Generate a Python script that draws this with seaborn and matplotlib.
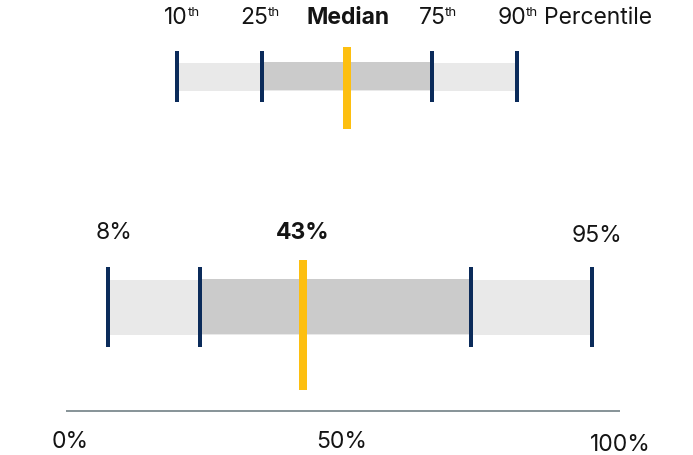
import matplotlib
matplotlib.use("Agg")
import matplotlib.pyplot as plt
import seaborn as sns

# Distribution summary (percent)
p_low = 8          # 10th percentile
p_q1 = 24.5        # 25th percentile
p_median = 43      # median
p_q3 = 73.3        # 75th percentile
p_high = 95        # 90th percentile

axis_ticks = [0, 50, 100]
axis_labels = ["0%", "50%", "100%"]

legend_numbers = ["10", "25", "Median", "75", "90"]

# Colours
LIGHT = "#e9e9e9"
DARK = "#cbcbcb"
NAVY = "#0b2b5a"
GOLD = "#fdbf10"
AXIS = "#66757a"
INK = "#141414"

sns.set_theme(style="white")
plt.rcParams["font.family"] = ["Inter", "DejaVu Sans"]

W, H = 693, 456
fig = plt.figure(figsize=(W / 100, H / 100), dpi=100)
ax = fig.add_axes([0, 0, 1, 1])

# x in percent, y in pixel rows from the top
X0, S = 63.2, 5.568
ax.set_xlim(-X0 / S, (W - X0) / S)
ax.set_ylim(H, 0)
ax.axis("off")

PT = 0.72  # points per pixel


def range_bar(lo, q1, med, q3, hi, yc, h, tick_half, med_top, med_bot):
    ax.barh(yc + 0.5, hi - lo, left=lo, height=h, color=LIGHT, lw=0, zorder=1)
    ax.barh(yc - 0.5, q3 - q1, left=q1, height=h, color=DARK, lw=0, zorder=2)
    ax.vlines([lo, q1, q3, hi], yc - tick_half, yc + tick_half,
              color=NAVY, lw=4 * PT, zorder=3)
    ax.vlines(med, med_top, med_bot, color=GOLD, lw=8 * PT, zorder=4)


# Key: evenly spaced schematic of the percentile bar
key_start, key_step = 20.5, 15.25
key_pos = [key_start + i * key_step for i in range(5)]
range_bar(key_pos[0], key_pos[1], key_pos[2], key_pos[3], key_pos[4],
          yc=77.3, h=28.3, tick_half=25.3, med_top=48, med_bot=130)

key_fs = 16.5
sup_fs = 9.5
# (position index, split offset in px)
for i, dx in [(0, 10.5), (1, 6.0), (3, 13.3), (4, 9.6)]:
    ax.annotate(legend_numbers[i], (key_pos[i], 24), xytext=(dx * PT, 0),
                textcoords="offset points", ha="right", va="baseline",
                fontsize=key_fs, color=INK)
    ax.annotate("th", (key_pos[i], 15.8), xytext=((dx - 0.5) * PT, 0),
                textcoords="offset points", ha="left", va="baseline",
                fontsize=sup_fs, color=INK)
ax.annotate(legend_numbers[2], (key_pos[2], 24), xytext=(1 * PT, 0),
            textcoords="offset points", ha="center", va="baseline",
            fontsize=key_fs, fontweight="bold", color=INK)
ax.annotate("Percentile", (key_pos[4], 24), xytext=(27.5 * PT, 0),
            textcoords="offset points", ha="left", va="baseline",
            fontsize=key_fs, color=INK)

# Main bar
range_bar(p_low, p_q1, p_median, p_q3, p_high,
          yc=307.8, h=55.2, tick_half=40.3, med_top=261, med_bot=391)

val_fs = 16.5
ax.annotate(f"{p_low}%", (p_low, 239), xytext=(6 * PT, 0),
            textcoords="offset points", ha="center", va="baseline",
            fontsize=val_fs, color=INK)
ax.annotate(f"{p_median}%", (p_median, 239), xytext=(0, 0),
            textcoords="offset points", ha="center", va="baseline",
            fontsize=val_fs, fontweight="bold", color=INK)
ax.annotate(f"{p_high}%", (p_high, 242), xytext=(5 * PT, 0),
            textcoords="offset points", ha="center", va="baseline",
            fontsize=val_fs, color=INK)

# Percent axis
ax.hlines(412, 0.5, 100, color=AXIS, lw=1.1, zorder=1)
for t, lab, dx, yb in zip(axis_ticks, axis_labels, [7, 0, 0], [448, 448, 451]):
    ax.annotate(lab, (t, yb), xytext=(dx * PT, 0), textcoords="offset points",
                ha="center", va="baseline", fontsize=val_fs, color=INK)

fig.savefig("out.png", dpi=100)
